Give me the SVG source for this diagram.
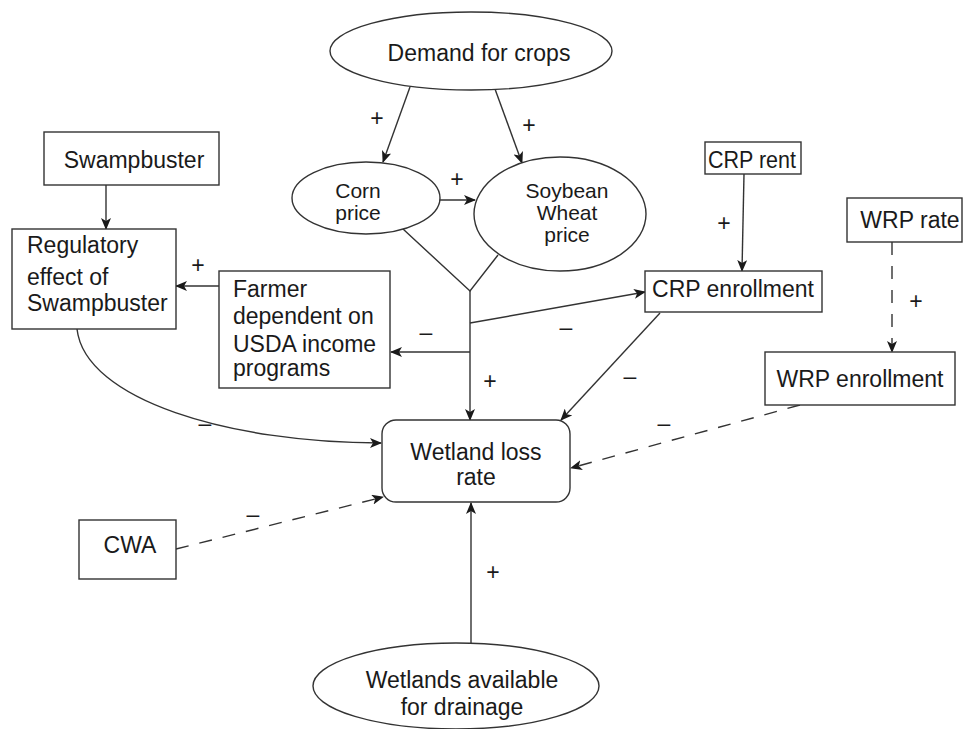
<svg xmlns="http://www.w3.org/2000/svg" width="963" height="729" viewBox="0 0 963 729">
<style>
.n{fill:#fff;stroke:#333;stroke-width:1.4}
.t{font-family:"Liberation Sans",Arial,sans-serif;font-size:23px;fill:#1a1a1a}
.m{font-size:21px}
.c{text-anchor:middle}
.e{fill:none;stroke:#333;stroke-width:1.4}
.d{stroke-dasharray:13 11}
.s{font-family:"Liberation Sans",Arial,sans-serif;font-size:23px;fill:#1a1a1a;text-anchor:middle}
</style>
<defs>
<marker id="a" viewBox="0 0 12 10" refX="11" refY="5" markerWidth="12" markerHeight="10" markerUnits="userSpaceOnUse" orient="auto">
<path d="M0,0 L12,5 L0,10 L3,5 Z" fill="#1a1a1a"/>
</marker>
</defs>
<rect width="963" height="729" fill="#fff"/>
<g id="connectors">
<path class="e" d="M410,87 L383,162" marker-end="url(#a)"/>
<path class="e" d="M495,89 L522,163" marker-end="url(#a)"/>
<path class="e" d="M439,200 L475,200" marker-end="url(#a)"/>
<path class="e" d="M403,229 L470,291 L498,255"/>
<path class="e" d="M470,291 L470,420" marker-end="url(#a)"/>
<path class="e" d="M470,323 L645,292" marker-end="url(#a)"/>
<path class="e" d="M470,352 L391,352" marker-end="url(#a)"/>
<path class="e" d="M744,174 L742,271" marker-end="url(#a)"/>
<path class="e" d="M660,313 L561,420" marker-end="url(#a)"/>
<path class="e d" d="M892,242 L892,352" marker-end="url(#a)"/>
<path class="e d" d="M800,405 L571,468" marker-end="url(#a)"/>
<path class="e d" d="M176,549 L383,497" marker-end="url(#a)"/>
<path class="e" d="M471,643 L471,503" marker-end="url(#a)"/>
<path class="e" d="M106,185 L106,229" marker-end="url(#a)"/>
<path class="e" d="M219,286 L176,286" marker-end="url(#a)"/>
<path class="e" d="M77,329 C85,400 230,443 381,443" marker-end="url(#a)"/>
<text class="s" x="377" y="126">+</text>
<text class="s" x="529" y="133">+</text>
<text class="s" x="457" y="187">+</text>
<text class="s" x="198" y="273">+</text>
<text class="s" x="490" y="389">+</text>
<text class="s" x="724" y="231">+</text>
<text class="s" x="916" y="309">+</text>
<text class="s" x="493" y="580">+</text>
<text class="s" x="426" y="340">–</text>
<text class="s" x="566" y="335">–</text>
<text class="s" x="630" y="384">–</text>
<text class="s" x="664" y="431">–</text>
<text class="s" x="205" y="431">–</text>
<text class="s" x="253" y="522">–</text>
</g>
<g id="demand">
<ellipse class="n" cx="471" cy="51" rx="141" ry="39"/>
<text class="t c" x="479" y="61">Demand for crops</text>
</g>
<g id="corn">
<ellipse class="n" cx="366" cy="198" rx="74" ry="36"/>
<text class="t m c" x="358" y="198">Corn</text>
<text class="t m c" x="358" y="220">price</text>
</g>
<g id="soybean">
<ellipse class="n" cx="560" cy="214" rx="86" ry="57"/>
<text class="t m c" x="567" y="198">Soybean</text>
<text class="t m c" x="567" y="220">Wheat</text>
<text class="t m c" x="567" y="242">price</text>
</g>
<g id="swampbuster">
<rect class="n" x="44" y="132" width="175" height="53"/>
<text class="t c" x="134" y="168">Swampbuster</text>
</g>
<g id="regulatory">
<rect class="n" x="12" y="229" width="164" height="100"/>
<text class="t" x="27" y="253">Regulatory</text>
<text class="t" x="27" y="285">effect of</text>
<text class="t" x="27" y="311">Swampbuster</text>
</g>
<g id="farmer">
<rect class="n" x="219" y="271" width="171" height="117"/>
<text class="t" x="233" y="297">Farmer</text>
<text class="t" x="233" y="324">dependent on</text>
<text class="t" x="233" y="352">USDA income</text>
<text class="t" x="233" y="376">programs</text>
</g>
<g id="crp-rent">
<rect class="n" x="705" y="142" width="96" height="32"/>
<text class="t c" x="752" y="168" textLength="88" lengthAdjust="spacingAndGlyphs">CRP rent</text>
</g>
<g id="crp-enrollment">
<rect class="n" x="645" y="271" width="177" height="41"/>
<text class="t c" x="733" y="297">CRP enrollment</text>
</g>
<g id="wrp-rate">
<rect class="n" x="847" y="198" width="115" height="44"/>
<text class="t c" x="910" y="228">WRP rate</text>
</g>
<g id="wrp-enrollment">
<rect class="n" x="765" y="352" width="190" height="53"/>
<text class="t c" x="860" y="387">WRP enrollment</text>
</g>
<g id="wetland-loss">
<rect class="n" x="382" y="420" width="188" height="82" rx="14" ry="14"/>
<text class="t c" x="476" y="460">Wetland loss</text>
<text class="t c" x="476" y="485">rate</text>
</g>
<g id="cwa">
<rect class="n" x="79" y="520" width="97" height="59"/>
<text class="t c" x="130" y="553">CWA</text>
</g>
<g id="wetlands-available">
<ellipse class="n" cx="456" cy="686" rx="143" ry="43"/>
<text class="t c" x="462" y="688">Wetlands available</text>
<text class="t c" x="462" y="715">for drainage</text>
</g>
</svg>
